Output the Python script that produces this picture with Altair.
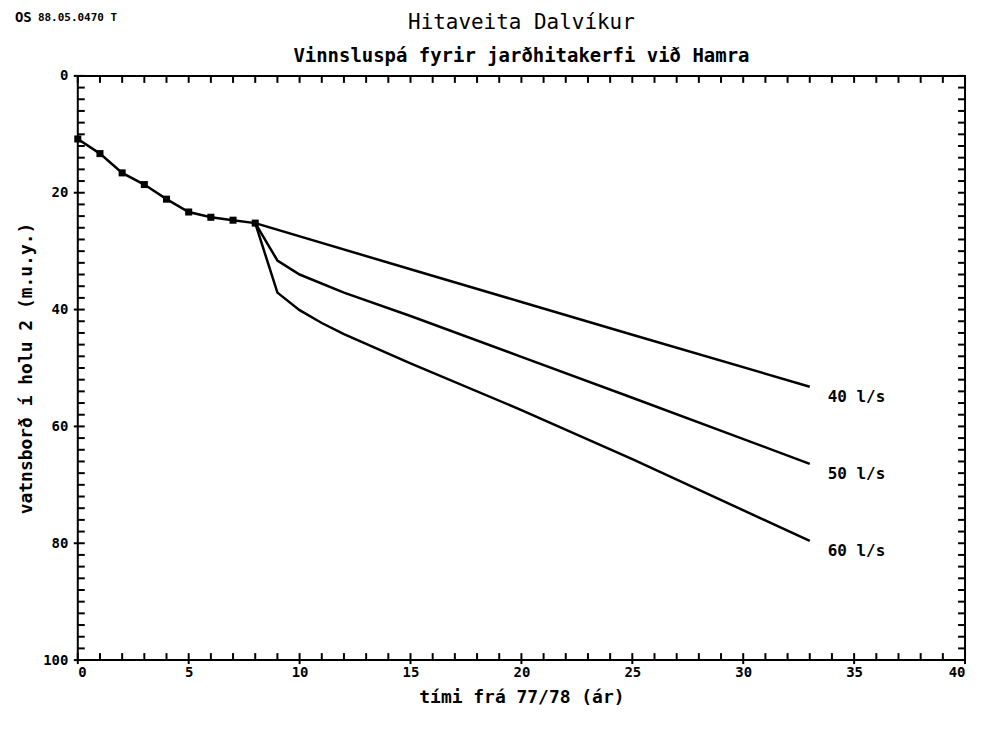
import altair as alt
import pandas as pd

# ---- data ----
obs_x = [0, 1, 2, 3, 4, 5, 6, 7, 8]
obs_y = [10.8, 13.3, 16.6, 18.6, 21.1, 23.3, 24.2, 24.7, 25.2]

s40_x = [8, 15, 20, 25, 33]
s40_y = [25.2, 33.1, 38.7, 44.3, 53.2]

s50_x = [8, 9, 10, 12, 15, 20, 25, 33]
s50_y = [25.2, 31.6, 34.0, 37.1, 41.1, 48.1, 55.1, 66.4]

s60_x = [8, 9, 10, 11, 12, 15, 20, 25, 33]
s60_y = [25.2, 37.1, 40.1, 42.3, 44.2, 49.2, 57.2, 65.6, 79.6]

series_names = ["40 l/s", "50 l/s", "60 l/s"]

title_text = "Hitaveita Dalvíkur"
subtitle_text = "Vinnsluspá fyrir jarðhitakerfi við Hamra"
stamp_text = "88.05.0470 T"
logo_text = "OS"

x_ticks_minor = list(range(0, 41, 1))
x_ticks_major = list(range(0, 41, 5))
y_ticks_minor = list(range(0, 101, 2))
y_ticks_major = list(range(0, 101, 20))

W, H = 890, 586
FONT = "DejaVu Sans Mono"

obs = pd.DataFrame({"x": obs_x, "y": obs_y})
proj = pd.concat([
    pd.DataFrame({"x": s40_x, "y": s40_y, "s": series_names[0]}),
    pd.DataFrame({"x": s50_x, "y": s50_y, "s": series_names[1]}),
    pd.DataFrame({"x": s60_x, "y": s60_y, "s": series_names[2]}),
])
ends = pd.DataFrame({
    "x": [s40_x[-1], s50_x[-1], s60_x[-1]],
    "y": [s40_y[-1], s50_y[-1], s60_y[-1]],
    "label": series_names,
})

xs = alt.Scale(domain=[0, 40], nice=False, zero=False)
ys = alt.Scale(domain=[0, 100], nice=False, reverse=True, zero=False)

X = alt.X("x:Q", scale=xs, title="tími frá 77/78 (ár)",
          axis=alt.Axis(values=x_ticks_major, ticks=False, grid=False,
                        labelPadding=5, titlePadding=10, domain=False))
Y = alt.Y("y:Q", scale=ys, title="vatnsborð í holu 2 (m.u.y.)",
          axis=alt.Axis(values=y_ticks_major, ticks=False, grid=False,
                        labelPadding=10, titlePadding=7, domain=False))

obs_line = alt.Chart(obs).mark_line(color="black", strokeWidth=2.5).encode(x=X, y=Y)
obs_pts = alt.Chart(obs).mark_point(shape="square", filled=True, color="black",
                                    size=50, opacity=1).encode(x="x:Q", y="y:Q")
proj_lines = alt.Chart(proj).mark_line(color="black", strokeWidth=2.5).encode(
    x="x:Q", y="y:Q", detail="s:N")
labels = alt.Chart(ends).mark_text(align="left", baseline="middle", dx=18, dy=10,
                                   font=FONT, fontWeight="bold", fontSize=16,
                                   color="black").encode(x="x:Q", y="y:Q", text="label:N")

xt = pd.DataFrame({"x": x_ticks_minor})
xtm = pd.DataFrame({"x": x_ticks_major})
yt = pd.DataFrame({"y": y_ticks_minor})
ytm = pd.DataFrame({"y": y_ticks_major})

tk = dict(color="black", strokeWidth=2)
bottom_ticks = alt.Chart(xt).mark_rule(**tk).encode(
    x="x:Q", y=alt.value(H), y2=alt.value(H - 7))
top_ticks = alt.Chart(xt).mark_rule(**tk).encode(
    x="x:Q", y=alt.value(0), y2=alt.value(7))
bottom_major = alt.Chart(xtm).mark_rule(**tk).encode(
    x="x:Q", y=alt.value(H), y2=alt.value(H + 4))
left_ticks = alt.Chart(yt).mark_rule(**tk).encode(
    y="y:Q", x=alt.value(0), x2=alt.value(7))
right_ticks = alt.Chart(yt).mark_rule(**tk).encode(
    y="y:Q", x=alt.value(W), x2=alt.value(W - 7))
left_major = alt.Chart(ytm).mark_rule(**tk).encode(
    y="y:Q", x=alt.value(0), x2=alt.value(-4))

def text_layer(txt, x, y, size, weight, align="left"):
    return alt.Chart(pd.DataFrame({"t": [txt]})).mark_text(
        align=align, baseline="middle", font=FONT, fontWeight=weight,
        fontSize=size, color="black").encode(
        x=alt.value(x), y=alt.value(y), text="t:N")

stamp = text_layer(stamp_text, -40, -58, 11, "bold")
logo = text_layer(logo_text, -63, -58, 14, "bold")
title = text_layer(title_text, W / 2, -53, 21, "normal", align="center")
subtitle = text_layer(subtitle_text, W / 2, -20, 19, "bold", align="center")

chart = alt.layer(
    obs_line, proj_lines, obs_pts, labels,
    bottom_ticks, top_ticks, bottom_major, left_ticks, right_ticks, left_major,
    stamp, logo, title, subtitle,
).properties(
    width=W, height=H,
    autosize="none",
    padding={"left": 70, "top": 67, "right": 10, "bottom": 62},
).configure_view(
    stroke="black", strokeWidth=2
).configure_axis(
    labelFont=FONT, labelFontWeight="bold", labelFontSize=14, labelColor="black",
    titleFont=FONT, titleFontWeight="bold", titleFontSize=18, titleColor="black",
)

chart.save("out.html", embed_options={"renderer": "svg", "actions": False})
